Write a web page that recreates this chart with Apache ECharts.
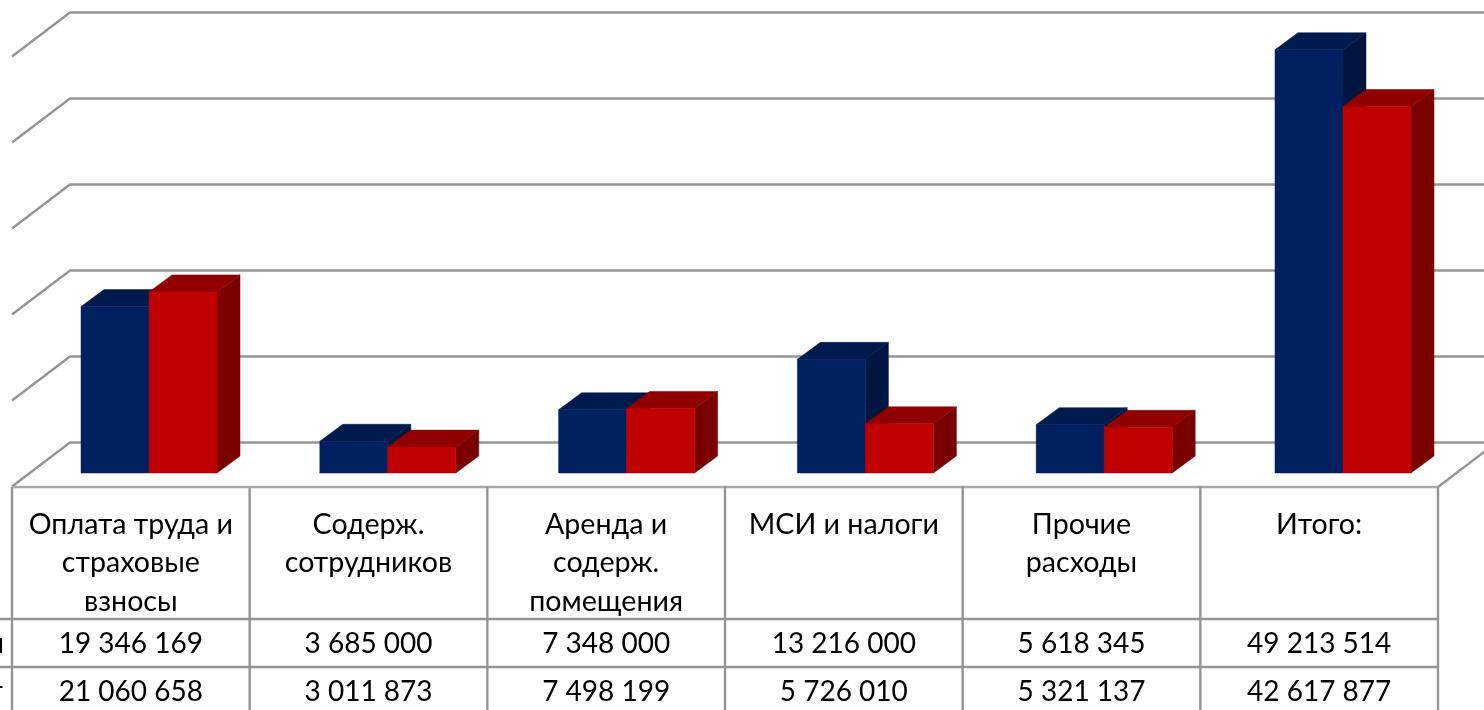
<!DOCTYPE html>
<html>
<head>
<meta charset="utf-8">
<title>Расходы</title>
<style>
    html, body { margin: 0; padding: 0; background: #fff; }
    #chart { width: 1484px; height: 710px; }
</style>
<script src="https://cdn.jsdelivr.net/npm/echarts@6/dist/echarts.min.js"></script>
</head>
<body>
<div id="chart"></div>
<script>
    // данные
    var categories = ['Оплата труда и\nстраховые\nвзносы', 'Содерж.\nсотрудников', 'Аренда и\nсодерж.\nпомещения', 'МСИ и налоги', 'Прочие\nрасходы', 'Итого:'];
    var planValues = [19346169, 3685000, 7348000, 13216000, 5618345, 49213514];
    var factValues = [21060658, 3011873, 7498199, 5726010, 5321137, 42617877];
    var rowNames = ['План', 'Факт'];
    var gridTicks = [0, 10000000, 20000000, 30000000, 40000000, 50000000];

    var planColors = { front: '#002060', top: '#001A4D', side: '#001540' };
    var factColors = { front: '#C00000', top: '#900000', side: '#7A0000' };
    var lineColor = '#959595';
    var lineW = 2.4;
    var fontName = 'Lato, "Noto Sans", sans-serif';

    var barWidth = 68;
    var sideX = 23, sideY = 17; // глубина столбика
    var wallDX = 58, wallDY = 44; // глубина пола
    var wallBack = 30.5; // сдвиг задней стенки от плоскости столбиков

    function money(v) {
        return String(v).replace(/\B(?=(\d{3})+$)/g, ' ');
    }

    function poly(points, color) {
        return { type: 'polygon', shape: { points: points }, style: { fill: color, stroke: color, lineWidth: 0.5 } };
    }

    function barRender(colors, side) {
        return function (params, api) {
            var top = api.coord([api.value(0), api.value(1)]);
            var base = api.coord([api.value(0), 0]);
            var x0 = side === 0 ? top[0] - barWidth : top[0];
            var x1 = x0 + barWidth;
            return {
                type: 'group',
                children: [
                    poly([[x1, top[1]], [x1 + sideX, top[1] - sideY], [x1 + sideX, base[1] - sideY], [x1, base[1]]], colors.side),
                    poly([[x0, top[1]], [x0 + sideX, top[1] - sideY], [x1 + sideX, top[1] - sideY], [x1, top[1]]], colors.top),
                    poly([[x0, top[1]], [x1, top[1]], [x1, base[1]], [x0, base[1]]], colors.front)
                ]
            };
        };
    }

    function wallRender(params, api) {
        var y = api.coord([0, api.value(1)])[1] - wallBack;
        var backLeft = 70;
        return {
            type: 'polyline',
            shape: { points: [[backLeft - wallDX, y + wallDY], [backLeft, y], [1500, y]] },
            style: { stroke: lineColor, lineWidth: lineW, fill: null }
        };
    }

    var headerTop = 37.5, rowTops = [132, 180], rowHeight = 48, headerLine = 38.5;

    function label(text, x, y, size, align) {
        return {
            type: 'text',
            style: {
                text: text, x: x, y: y, align: align || 'center', verticalAlign: 'middle',
                fill: '#000', font: size + 'px ' + fontName
            }
        };
    }

    function tableRender(params, api) {
        var i = api.value(0);
        var cs = params.coordSys;
        var band = api.size([1, 0])[0];
        var cx = api.coord([i, 0])[0];
        var kids = [];
        categories[i].split('\n').forEach(function (line, n) {
            kids.push(label(line, cx, cs.y + headerTop + n * headerLine, 28.6));
        });
        kids.push(label(money(planValues[i]), cx, cs.y + rowTops[0] + rowHeight / 2 + 0.5, 28));
        kids.push(label(money(factValues[i]), cx, cs.y + rowTops[1] + rowHeight / 2 + 0.5, 28));
        // вертикальные линии ячейки
        var rx = cx + band / 2;
        kids.push({ type: 'line', shape: { x1: rx, y1: cs.y, x2: rx, y2: cs.y + cs.height }, style: { stroke: lineColor, lineWidth: lineW } });
        if (i === 0) {
            var lx = cx - band / 2;
            kids.push({ type: 'line', shape: { x1: lx, y1: cs.y, x2: lx, y2: cs.y + cs.height }, style: { stroke: lineColor, lineWidth: lineW } });
            kids.push(label(rowNames[0], 4, cs.y + rowTops[0] + rowHeight / 2 + 0.5, 28, 'right'));
            kids.push(label(rowNames[1], 3, cs.y + rowTops[1] + rowHeight / 2 + 0.5, 28, 'right'));
            // горизонтальные линии таблицы
            var right = cs.x + cs.width;
            kids.push({ type: 'line', shape: { x1: cs.x, y1: cs.y, x2: right, y2: cs.y }, style: { stroke: '#A8A8A8', lineWidth: lineW } });
            kids.push({ type: 'line', shape: { x1: right, y1: cs.y, x2: right + wallDX, y2: cs.y - wallDY }, style: { stroke: lineColor, lineWidth: lineW } });
            rowTops.forEach(function (t) {
                kids.push({ type: 'line', shape: { x1: 0, y1: cs.y + t, x2: right, y2: cs.y + t }, style: { stroke: lineColor, lineWidth: lineW } });
            });
        }
        return { type: 'group', children: kids };
    }

    var chart = echarts.init(document.getElementById('chart'));
    chart.setOption({
        animation: false,
        backgroundColor: '#fff',
        grid: [
            { left: 29.6, right: 21.6, top: 43, height: 430 },
            { left: 12, right: 46, top: 487, bottom: 0 }
        ],
        xAxis: [
            { type: 'category', gridIndex: 0, data: categories, show: false },
            { type: 'category', gridIndex: 1, data: categories, show: false }
        ],
        yAxis: [
            { type: 'value', gridIndex: 0, min: 0, max: 50000000, interval: 10000000, show: false },
            { type: 'value', gridIndex: 1, min: 0, max: 1, show: false }
        ],
        series: [
            {
                name: 'wall', type: 'custom', xAxisIndex: 0, yAxisIndex: 0, z: 1,
                data: gridTicks.map(function (t) { return [0, t]; }),
                encode: { x: 0, y: 1 },
                renderItem: wallRender
            },
            {
                name: rowNames[0], type: 'custom', xAxisIndex: 0, yAxisIndex: 0, z: 2,
                data: planValues.map(function (v, i) { return [i, v]; }),
                encode: { x: 0, y: 1 },
                renderItem: barRender(planColors, 0)
            },
            {
                name: rowNames[1], type: 'custom', xAxisIndex: 0, yAxisIndex: 0, z: 3,
                data: factValues.map(function (v, i) { return [i, v]; }),
                encode: { x: 0, y: 1 },
                renderItem: barRender(factColors, 1)
            },
            {
                name: 'table', type: 'custom', xAxisIndex: 1, yAxisIndex: 1, z: 4,
                data: categories.map(function (c, i) { return [i, 0]; }),
                encode: { x: 0, y: 1 },
                renderItem: tableRender
            }
        ]
    });
</script>
</body>
</html>
